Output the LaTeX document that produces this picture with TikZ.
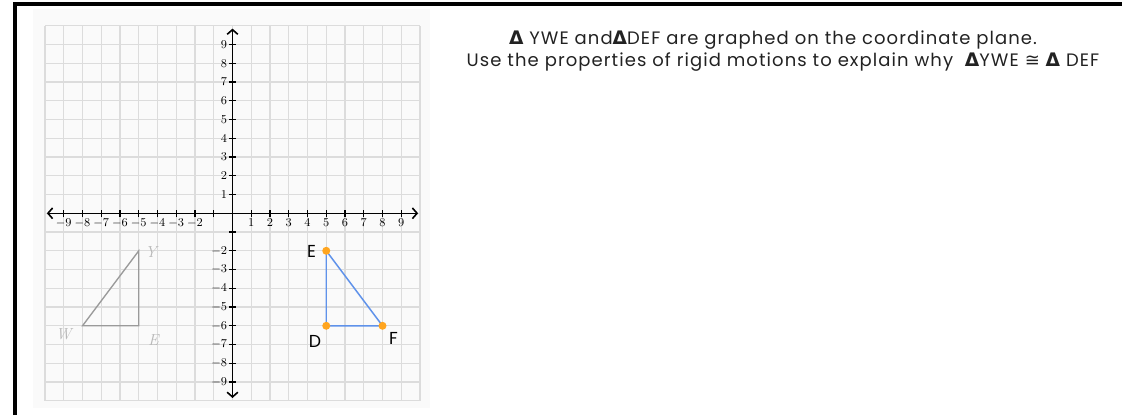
\documentclass[tikz,border=0pt]{standalone}
\usepackage{fontspec}
\usepackage{xcolor}
\usetikzlibrary{arrows.meta,positioning}
\newfontfamily\gothic[LetterSpace=6]{Poppins}
\newfontfamily\trifont{DejaVu Sans}
\definecolor{gridgray}{HTML}{DCDCDC}
\definecolor{panelgray}{HTML}{FAFAFA}
\definecolor{edgeblue}{HTML}{5F92EA}
\definecolor{dotorange}{HTML}{FFA51F}
\definecolor{imagegray}{HTML}{9A9A9A}
\definecolor{inkgray}{HTML}{222222}
\newcommand{\tri}{{\trifont\bfseries\fontsize{14}{14}\selectfont Δ}}

\begin{document}
\begin{tikzpicture}[
    x=0.75pt, y=0.75pt,
    frame/.style={line width=3pt},
    axis/.style={line width=1.2pt, {Straight Barb[length=3.5pt,width=8pt]}-{Straight Barb[length=3.5pt,width=8pt]}},
    tick/.style={line width=0.9pt},
    ticklabel/.style={font=\fontsize{9.5}{10}\selectfont, inner sep=1pt},
    ywe/.style={imagegray, line width=1pt},
    ywelabel/.style={text=imagegray!70, font=\fontsize{12}{12}\selectfont\itshape},
    edge/.style={edgeblue, line width=1.1pt},
    dot/.style={circle, fill=dotorange, inner sep=0pt, minimum size=6pt},
    deflabel/.style={font=\gothic\fontsize{13}{13}\selectfont},
    prompt/.style={font=\gothic\fontsize{13.5}{15}\selectfont, text=inkgray}
]
\useasboundingbox (0,0) rectangle (1122,-415);
\draw[frame] (14.7,-415) -- (14.7,-3.5) -- (1122,-3.5);
\fill[panelgray] (33,-9) rectangle (430,-408);

\begin{scope}[shift={(232.5,-213.3)}, x=14.0625pt, y=14.0625pt]
\draw[gridgray, line width=1pt, step=1] (-10,-10) grid (10,10);

% axes
\draw[axis] (-9.9,0) -- (9.9,0);
\draw[axis] (0,-9.85) -- (0,9.85);
\foreach \i in {-9,...,-1,1,2,...,9} {
  \draw[tick] (\i,-0.2) -- (\i,0.2);
  \draw[tick] (-0.2,\i) -- (0.2,\i);
}
\foreach \i in {-9,...,-2}
  \node[ticklabel, below] at (\i,-0.22) {$\i$};
\foreach \i in {1,...,9}
  \node[ticklabel, below] at (\i,-0.22) {$\i$};
\foreach \i in {-9,...,-2,1,2,...,9}
  \node[ticklabel, left] at (-0.2,\i) {$\i$};

% triangle YWE
\coordinate (yweY) at (-5,-2);
\coordinate (yweW) at (-8,-6);
\coordinate (yweE) at (-5,-6);
\draw[ywe] (yweY) -- (yweW) -- (yweE) -- cycle;
\node[ywelabel] (labY) at (-4.35,-2.05) {Y};
\node[ywelabel] (labW) at (-9.0,-6.45) {W};
\node[ywelabel] (labE) at (-4.22,-6.76) {E};

% triangle DEF
\coordinate (defE) at (5,-2);
\coordinate (defD) at (5,-6);
\coordinate (defF) at (8,-6);
\draw[edge] (defE) -- (defD) -- (defF) -- cycle;
\node[dot] (dotE) at (defE) {};
\node[dot] (dotD) at (defD) {};
\node[dot] (dotF) at (defF) {};
\node[deflabel] (labDE) at (4.22,-2.05) {E};
\node[deflabel] (labDD) at (4.4,-6.85) {D};
\node[deflabel] (labDF) at (8.58,-6.67) {F};
\end{scope}

% question text
\node[prompt] (line1) at (773,-40) {\tri\ YWE and\tri DEF are graphed on the coordinate plane.};
\node[prompt] (line2) at (783,-62) {Use the properties of rigid motions to explain why\ \ \tri YWE {\trifont≅} \tri\ DEF};
\end{tikzpicture}
\end{document}
